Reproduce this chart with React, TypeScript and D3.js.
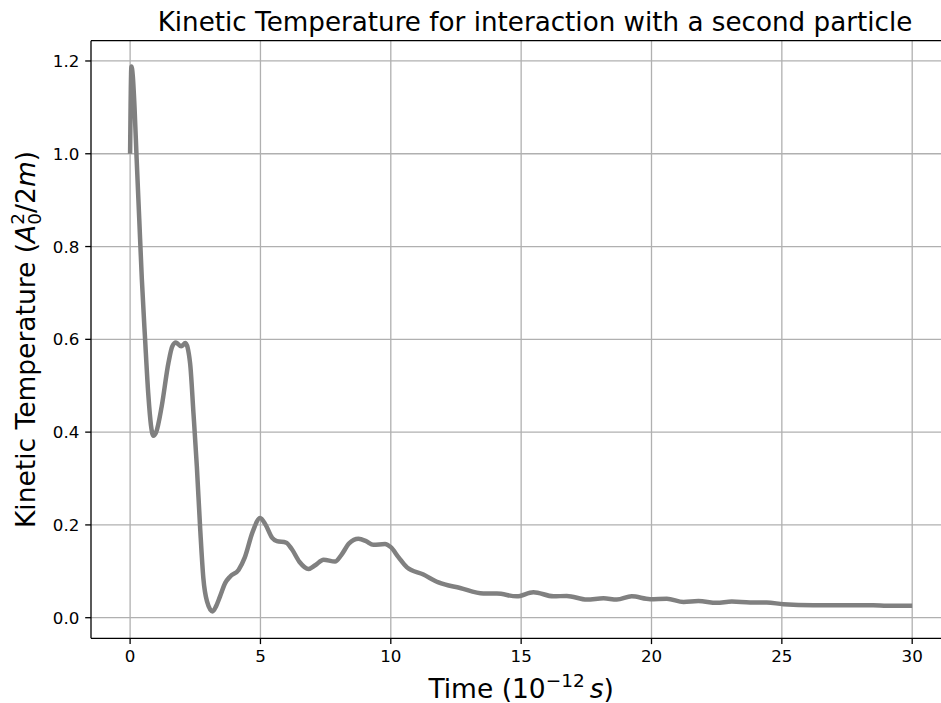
import React from "react";
import * as d3 from "d3";

const timeValues = [
  0, 0.05, 0.1, 0.17, 0.25, 0.35, 0.45, 0.575, 0.7, 0.8, 0.89, 1.0, 1.21, 1.47, 1.62, 1.76, 1.96, 2.12,
  2.3, 2.43, 2.56, 2.69, 2.81, 2.95, 3.16, 3.3, 3.45, 3.65, 3.84, 4.16, 4.4, 4.7, 4.99, 5.2, 5.45,
  5.63, 5.98, 6.2, 6.5, 6.84, 7.1, 7.42, 7.86, 8.1, 8.4, 8.76, 9.05, 9.33, 9.78, 10.0, 10.3, 10.61,
  11.25, 11.83, 12.66, 13.55, 14.07, 14.83, 15.47, 16.24, 16.75, 17.52, 18.16, 18.67, 19.24, 19.95,
  20.59, 21.23, 21.8, 22.5, 23.08, 23.78, 24.42, 25.06, 26.2, 27.2, 28.5, 29.03, 30,
];
const tempValues = [
  1.0, 1.188, 1.17, 1.1, 0.99, 0.86, 0.73, 0.6, 0.48, 0.415, 0.392, 0.4, 0.455, 0.549, 0.585, 0.593,
  0.585, 0.592, 0.549, 0.441, 0.326, 0.19, 0.085, 0.035, 0.0136, 0.025, 0.046, 0.075, 0.089, 0.103,
  0.13, 0.185, 0.215, 0.2, 0.172, 0.165, 0.162, 0.148, 0.12, 0.105, 0.113, 0.125, 0.121, 0.135, 0.16,
  0.17, 0.165, 0.157, 0.159, 0.152, 0.13, 0.109, 0.093, 0.076, 0.064, 0.052, 0.052, 0.046, 0.055,
  0.046, 0.047, 0.039, 0.042, 0.039, 0.046, 0.04, 0.041, 0.034, 0.036, 0.032, 0.035, 0.033, 0.033,
  0.029, 0.027, 0.027, 0.027, 0.026, 0.026,
];
const xTicks = [0, 5, 10, 15, 20, 25, 30];
const yTicks = [0.0, 0.2, 0.4, 0.6, 0.8, 1.0, 1.2];

const W = 941;
const H = 703;
const left = 91;
const right = 951.3;
const top = 40.7;
const bottom = 638.3;
const FONT = "DejaVu Sans";
const TICK_FS = 16.7;
const TITLE_FS = 26.2;
const LABEL_FS = 26.5;
const SMALL_FS = 18.5;

export default function App() {
  const x = d3.scaleLinear().domain([-1.5, 31.5]).range([left, right]);
  const y = d3.scaleLinear().domain([-0.0444, 1.2437]).range([bottom, top]);
  const data = timeValues.map((t, i) => [t, tempValues[i]] as [number, number]);
  const line = d3
    .line<[number, number]>()
    .x((d) => x(d[0]))
    .y((d) => y(d[1]))
    .curve(d3.curveMonotoneX);

  return (
    <svg
      width={W}
      height={H}
      style={{ position: "absolute", left: 0, top: 0, background: "#fff" }}
      fontFamily={FONT}
    >
      <rect x={0} y={0} width={W} height={H} fill="#fff" />
      {xTicks.map((t) => (
        <line key={"gx" + t} x1={x(t)} x2={x(t)} y1={top} y2={bottom} stroke="#b0b0b0" strokeWidth={1.3} />
      ))}
      {yTicks.map((t) => (
        <line key={"gy" + t} x1={left} x2={right} y1={y(t)} y2={y(t)} stroke="#b0b0b0" strokeWidth={1.3} />
      ))}
      <path d={line(data) || ""} fill="none" stroke="#808080" strokeWidth={4.5} strokeLinejoin="round" strokeLinecap="butt" />
      <line x1={left} x2={left} y1={top} y2={bottom} stroke="#000" strokeWidth={1.3} />
      <line x1={left} x2={right} y1={bottom} y2={bottom} stroke="#000" strokeWidth={1.3} />
      <line x1={left} x2={right} y1={top} y2={top} stroke="#000" strokeWidth={1.3} />
      <line x1={right} x2={right} y1={top} y2={bottom} stroke="#000" strokeWidth={1.3} />
      {xTicks.map((t) => (
        <g key={"xt" + t}>
          <line x1={x(t)} x2={x(t)} y1={bottom} y2={bottom + 5.8} stroke="#000" strokeWidth={1.3} />
          <text x={x(t)} y={bottom + 24} textAnchor="middle" fontSize={TICK_FS} fill="#000">
            {t}
          </text>
        </g>
      ))}
      {yTicks.map((t) => (
        <g key={"yt" + t}>
          <line x1={left - 5.8} x2={left} y1={y(t)} y2={y(t)} stroke="#000" strokeWidth={1.3} />
          <text x={left - 11.6} y={y(t) + 6} textAnchor="end" fontSize={TICK_FS} fill="#000">
            {t.toFixed(1)}
          </text>
        </g>
      ))}
      <text x={535} y={31} textAnchor="middle" fontSize={TITLE_FS} fill="#000">
        Kinetic Temperature for interaction with a second particle
      </text>
      <text x={(left + right) / 2} y={698} textAnchor="middle" fontSize={LABEL_FS} fill="#000">
        <tspan>Time (10</tspan>
        <tspan dy={-11} fontSize={SMALL_FS}>−12</tspan>
        <tspan dy={11} dx={5} fontStyle="italic">s</tspan>
        <tspan>)</tspan>
      </text>
      <text
        transform={`translate(35,${(top + bottom) / 2}) rotate(-90)`}
        textAnchor="middle"
        fontSize={LABEL_FS}
        fill="#000"
      >
        <tspan>Kinetic Temperature (</tspan>
        <tspan fontStyle="italic">A</tspan>
        <tspan dy={-11} fontSize={SMALL_FS}>2</tspan>
        <tspan dx={-11.7} dy={17} fontSize={SMALL_FS}>0</tspan>
        <tspan dy={-6}>/2</tspan>
        <tspan fontStyle="italic">m</tspan>
        <tspan>)</tspan>
      </text>
    </svg>
  );
}
